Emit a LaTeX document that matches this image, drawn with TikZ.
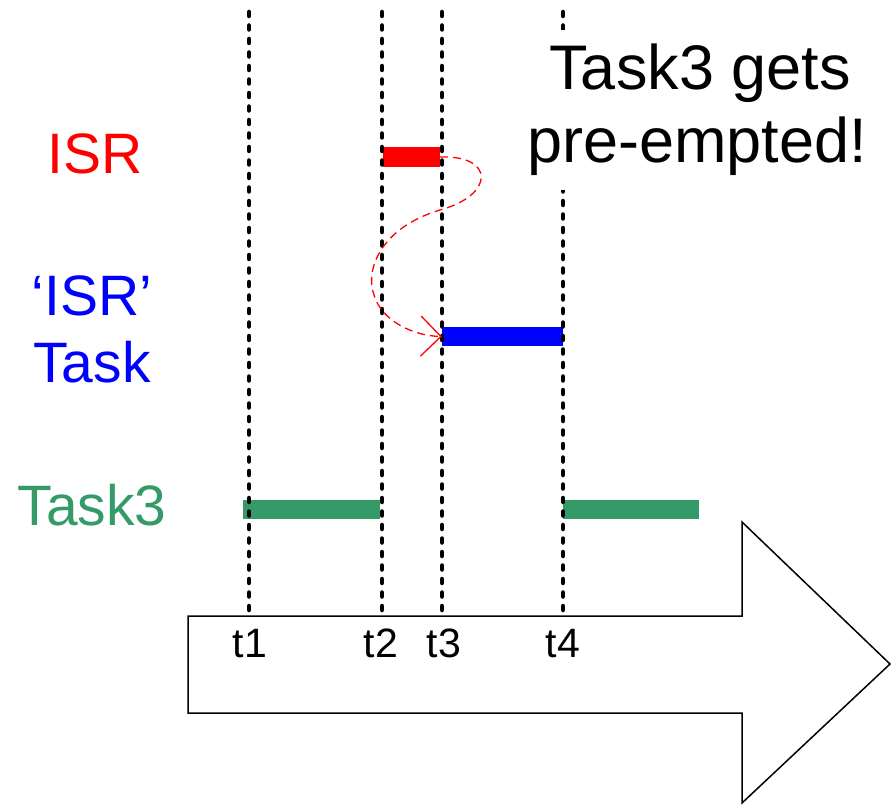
\documentclass[tikz,border=0pt]{standalone}
\usepackage{fontspec}
\setmainfont{Liberation Sans}
\usetikzlibrary{arrows.meta}
\definecolor{tgreen}{RGB}{52,154,104}
\begin{document}
\begin{tikzpicture}[x=1pt,y=-1pt,
  bar/.style={draw=none, inner sep=0pt, minimum height=19pt},
  tline/.style={line width=4.5pt, dash pattern=on 4pt off 9.5pt, line cap=round},
  lbl/.style={font=\fontsize{57}{67}\selectfont, align=center, inner sep=0pt, anchor=base},
  tick/.style={font=\fontsize{41}{48}\selectfont, inner sep=0pt, anchor=base},
  ann/.style={font=\fontsize{63}{73}\selectfont, inner sep=0pt, anchor=base}]
\useasboundingbox (0,0) rectangle (891,805);
% big time arrow
\draw[line width=1.5pt, fill=white] (188,616) -- (742,616) -- (742,522) -- (890,664) -- (742,803) -- (742,713) -- (188,713) -- cycle;
% bars
\node[bar, fill=red, minimum width=57pt, minimum height=20pt] (isrbar) at (411.5,157) {};
\node[bar, fill=blue, minimum width=121pt] (taskbar) at (502.5,336.5) {};
\node[bar, fill=tgreen, minimum width=137pt] (g1) at (311.5,509.5) {};
\node[bar, fill=tgreen, minimum width=136pt] (g2) at (631,509.5) {};
% time lines
\foreach \n/\x in {1/249,2/382,3/442,4/563}{
  \coordinate (top\n) at (\x,12);
  \coordinate (bot\n) at (\x,616);
  \draw[tline] (top\n) -- (bot\n);
}
% annotation
\fill[white] (525,30) rectangle (880,190);
\node[ann] (ann1) at (700,90) {Task3 gets};
\node[ann] (ann2) at (697,163) {pre-empted!};
% labels
\node[lbl, text=red] (isr) at (95,174) {ISR};
\node[lbl, text=blue] (isrt1) at (92,315) {‘ISR’};
\node[lbl, text=blue] (isrt2) at (92,382) {Task};
\node[lbl, text=tgreen] (t3lbl) at (92,525) {Task3};
% ticks
\node[tick] (l1) at (250,657) {t1};
\node[tick] (l2) at (381,657) {t2};
\node[tick] (l3) at (444,657) {t3};
\node[tick] (l4) at (563,657) {t4};
% preemption curve
\draw[red, line width=1.3pt, dash pattern=on 8pt off 5pt, -{Straight Barb[length=20pt,width=40pt]}]
  (isrbar.east) .. controls (495,155) and (495,195) .. (440,210)
  .. controls (380,228) and (365,270) .. (374,295)
  .. controls (382,322) and (415,336) .. (taskbar.west);
\end{tikzpicture}
\end{document}
